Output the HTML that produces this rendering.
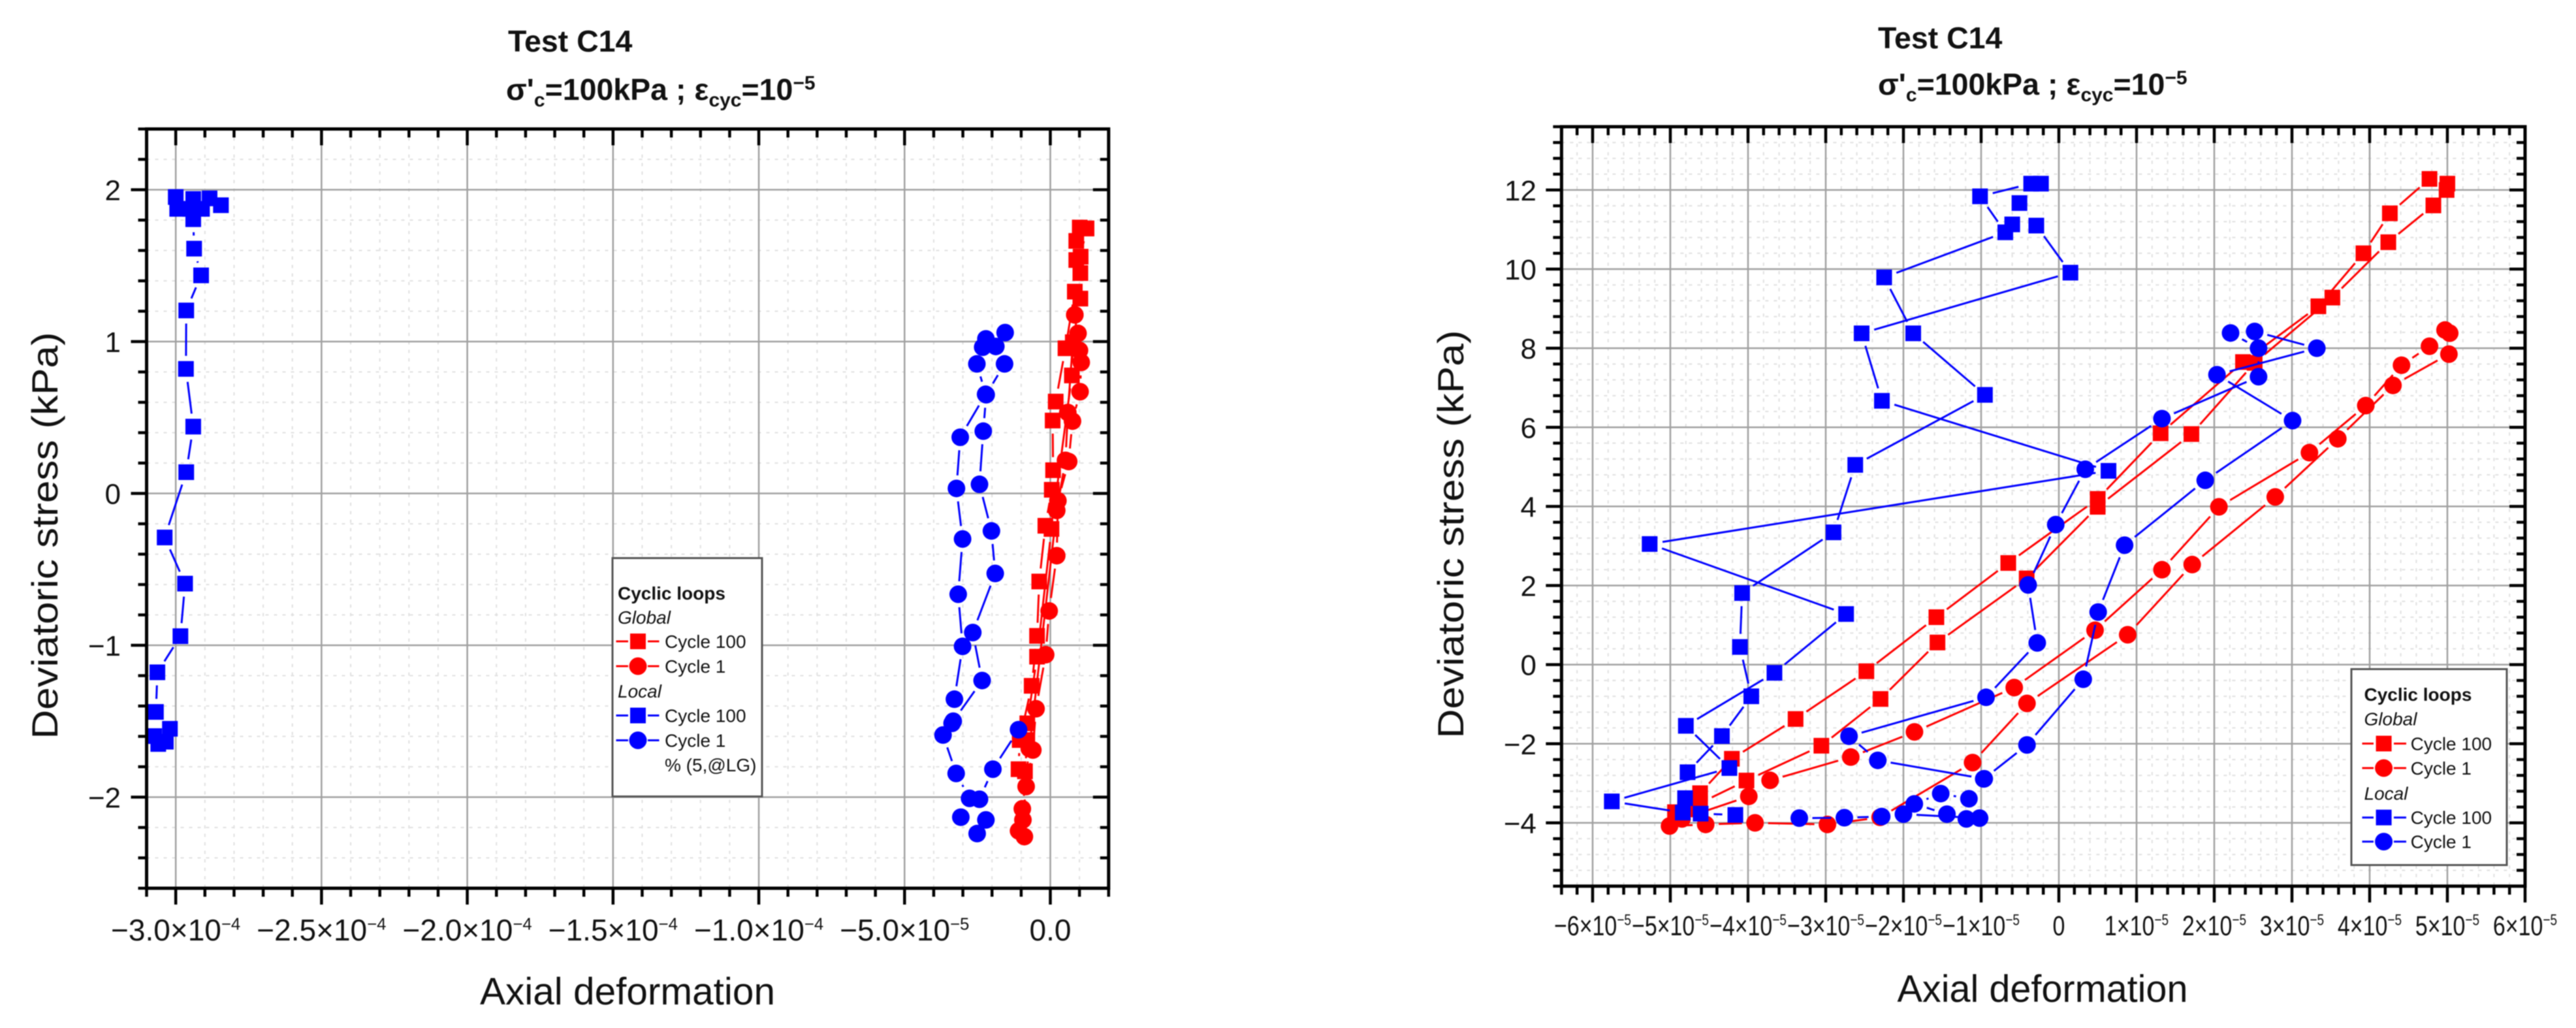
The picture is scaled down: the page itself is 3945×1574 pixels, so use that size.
<!DOCTYPE html>
<html lang="en">
<head>
<meta charset="utf-8">
<title>Test C14 cyclic loops</title>
<style>
html,body{margin:0;padding:0;background:#fff;}
svg{display:block;filter:blur(0.7px);}
text{font-family:"Liberation Sans",sans-serif;fill:#111;}
.title{font-weight:bold;font-size:46.5px;}
.leg{font-size:28px;}
.legb{font-size:28px;font-weight:bold;}
.legi{font-size:28px;font-style:italic;}
</style>
</head>
<body>
<svg id="figure" xmlns="http://www.w3.org/2000/svg" width="3945" height="1574" viewBox="0 0 3945 1574">
<rect x="0" y="0" width="3945" height="1574" fill="#ffffff"/>

<g id="left-chart"></g>
<g id="right-chart"></g>

<text class="title" x="778" y="79">Test C14</text>
<text class="title" x="775" y="153">σ'<tspan font-size="30" dy="10">c</tspan><tspan dy="-10">=100kPa ; ε</tspan><tspan font-size="30" dy="10">cyc</tspan><tspan dy="-10">=10</tspan><tspan font-size="30" dy="-16">−5</tspan></text>
<text class="title" x="2876" y="74">Test C14</text>
<text class="title" x="2876" y="145">σ'<tspan font-size="30" dy="10">c</tspan><tspan dy="-10">=100kPa ; ε</tspan><tspan font-size="30" dy="10">cyc</tspan><tspan dy="-10">=10</tspan><tspan font-size="30" dy="-16">−5</tspan></text>

<text x="0" y="0" font-size="56" transform="translate(88,820) rotate(-90)" text-anchor="middle" textLength="623" lengthAdjust="spacingAndGlyphs">Deviatoric stress (kPa)</text>
<text x="961" y="1538" font-size="58" text-anchor="middle" textLength="452" lengthAdjust="spacingAndGlyphs">Axial deformation</text>
<text x="0" y="0" font-size="56" transform="translate(2241,818) rotate(-90)" text-anchor="middle" textLength="625" lengthAdjust="spacingAndGlyphs">Deviatoric stress (kPa)</text>
<text x="3128" y="1534" font-size="58" text-anchor="middle" textLength="445" lengthAdjust="spacingAndGlyphs">Axial deformation</text>

<g>
  <rect x="938" y="854.5" width="229" height="365" fill="#ffffff" stroke="#555555" stroke-width="3"/>
  <text class="legb" x="946" y="918">Cyclic loops</text>
  <text class="legi" x="946" y="955">Global</text>
  <g>
    <path d="M943.5 982H962M992 982H1009.5" stroke="#ff0000" stroke-width="3" fill="none"/>
    <rect x="965" y="970" width="24" height="24" fill="#ff0000"/>
    <text class="leg" x="1018" y="992">Cycle 100</text>
  </g>
  <g>
    <path d="M943.5 1020H962M992 1020H1009.5" stroke="#ff0000" stroke-width="3" fill="none"/>
    <circle cx="977" cy="1020" r="13.5" fill="#ff0000"/>
    <text class="leg" x="1018" y="1030">Cycle 1</text>
  </g>
  <text class="legi" x="946" y="1068">Local</text>
  <g>
    <path d="M943.5 1095.5H962M992 1095.5H1009.5" stroke="#0000ff" stroke-width="3" fill="none"/>
    <rect x="965" y="1083.5" width="24" height="24" fill="#0000ff"/>
    <text class="leg" x="1018" y="1105.5">Cycle 100</text>
  </g>
  <g>
    <path d="M943.5 1133.5H962M992 1133.5H1009.5" stroke="#0000ff" stroke-width="3" fill="none"/>
    <circle cx="977" cy="1133.5" r="13.5" fill="#0000ff"/>
    <text class="leg" x="1018" y="1143.5">Cycle 1</text>
  </g>
  <text class="leg" x="1018" y="1181">% (5,@LG)</text>
</g>

<g>
  <rect x="3601" y="1024.5" width="238" height="300" fill="#ffffff" stroke="#555555" stroke-width="3"/>
  <text class="legb" x="3620.5" y="1073">Cyclic loops</text>
  <text class="legi" x="3620.5" y="1110.5">Global</text>
  <g>
    <path d="M3617.5 1138.5H3635M3666 1138.5H3685" stroke="#ff0000" stroke-width="3" fill="none"/>
    <rect x="3638.6" y="1126.5" width="24" height="24" fill="#ff0000"/>
    <text class="leg" x="3691.6" y="1148.5">Cycle 100</text>
  </g>
  <g>
    <path d="M3617.5 1176H3635M3666 1176H3685" stroke="#ff0000" stroke-width="3" fill="none"/>
    <circle cx="3650.6" cy="1176" r="13.5" fill="#ff0000"/>
    <text class="leg" x="3691.6" y="1186">Cycle 1</text>
  </g>
  <text class="legi" x="3620.5" y="1224.5">Local</text>
  <g>
    <path d="M3617.5 1251.7H3635M3666 1251.7H3685" stroke="#0000ff" stroke-width="3" fill="none"/>
    <rect x="3638.6" y="1239.7" width="24" height="24" fill="#0000ff"/>
    <text class="leg" x="3691.6" y="1261.7">Cycle 100</text>
  </g>
  <g>
    <path d="M3617.5 1288.6H3635M3666 1288.6H3685" stroke="#0000ff" stroke-width="3" fill="none"/>
    <circle cx="3650.6" cy="1288.6" r="13.5" fill="#0000ff"/>
    <text class="leg" x="3691.6" y="1298.6">Cycle 1</text>
  </g>
</g>
</svg>

<script>
// All strain values are expressed in units of 1e-5.

// ---- LEFT CHART DATA ----
const leftXTickValues = [-30, -25, -20, -15, -10, -5, 0];
const leftXTickMantissas = ['−3.0', '−2.5', '−2.0', '−1.5', '−1.0', '−5.0', '0.0'];
const leftXTickExponents = ['−4', '−4', '−4', '−4', '−4', '−5', ''];
const leftYTickValues = [-2, -1, 0, 1, 2];
const leftYTickLabels = ['−2', '−1', '0', '1', '2'];

const leftGlobal100X = [1.24, 1.01, 0.89, 0.89, 0.84, 0.52, 0.185, 0.08, 0.095, 0.05, -0.17, -0.38, -0.455, -0.64, -1.05, -1.09, -0.87, -0.79, -0.79, -0.455, 0.04, 0.74, 0.77, 1.03, 1.03, 1.04, 1.24];
const leftGlobal100Y = [1.745, 1.751, 1.663, 1.537, 1.329, 0.956, 0.605, 0.48, 0.153, 0.024, -0.213, -0.58, -0.938, -1.267, -1.624, -1.816, -1.83, -1.624, -1.514, -1.075, -0.234, 0.777, 0.996, 1.283, 1.451, 1.559, 1.745];
const leftGlobal1X = [0.84, 0.95, 1.0, 1.06, 1.02, 0.76, 0.63, 0.26, 0.22, -0.04, -0.16, -0.49, -0.6, -0.83, -0.94, -0.89, -1.09, -0.96, -0.72, 0.22, 0.52, 0.6, 0.84];
const leftGlobal1Y = [1.176, 1.054, 0.942, 0.863, 0.67, 0.476, 0.21, -0.048, -0.41, -0.774, -1.062, -1.418, -1.69, -1.93, -2.15, -2.26, -2.222, -2.077, -1.68, -0.112, 0.218, 0.533, 1.176];
const leftLocal100X = [-28.45, -28.84, -29.1, -29.4, -29.5, -30.0, -29.95, -29.4, -29.37, -29.13, -29.64, -29.65, -29.4, -29.64, -30.38, -29.68, -29.84, -30.63, -30.68, -30.74, -30.6, -30.34, -30.2];
const leftLocal100Y = [1.898, 1.943, 1.874, 1.939, 1.874, 1.952, 1.874, 1.806, 1.612, 1.436, 1.205, 0.82, 0.44, 0.14, -0.29, -0.594, -0.94, -1.178, -1.439, -1.598, -1.65, -1.635, -1.55];
const leftLocal1X = [-1.09, -1.97, -2.43, -2.21, -2.51, -3.07, -2.77, -3.23, -3.68, -3.37, -3.29, -3.01, -3.16, -3.01, -3.22, -3.09, -2.22, -2.52, -2.32, -2.21, -1.55, -1.87, -1.57, -2.2, -2.3, -2.43, -2.02, -1.89, -2.66, -2.34, -3.33];
const leftLocal1Y = [-1.556, -1.816, -2.014, -2.15, -2.24, -2.132, -2.008, -1.844, -1.591, -1.514, -1.355, -1.007, -0.664, -0.3, 0.033, 0.37, 0.653, 0.853, 0.963, 1.018, 1.059, 0.968, 0.853, 0.65, 0.41, 0.06, -0.247, -0.527, -0.916, -1.232, -1.5];

// ---- RIGHT CHART DATA ----
const rightXTickValues = [-6, -5, -4, -3, -2, -1, 0, 1, 2, 3, 4, 5, 6];
const rightXTickMantissas = ['−6', '−5', '−4', '−3', '−2', '−1', '0', '1', '2', '3', '4', '5', '6'];
const rightXTickExponents = ['−5', '−5', '−5', '−5', '−5', '−5', '', '−5', '−5', '−5', '−5', '−5', '−5'];
const rightYTickValues = [-4, -2, 0, 2, 4, 6, 8, 10, 12];
const rightYTickLabels = ['−4', '−2', '0', '2', '4', '6', '8', '10', '12'];

const rightGlobal100X = [4.77, 4.26, 3.92, 3.34, 2.37, 1.31, 0.5, -0.651, -1.576, -2.477, -3.388, -4.208, -4.617, -4.94, -4.81, -4.617, -4.02, -3.056, -2.295, -1.562, -0.414, 0.5, 1.706, 2.52, 3.52, 4.24, 4.82, 4.99, 5.0];
const rightGlobal100Y = [12.28, 11.41, 10.4, 9.06, 7.65, 5.85, 4.19, 2.57, 1.2, -0.166, -1.374, -2.38, -3.25, -3.73, -3.66, -3.5, -2.93, -2.05, -0.868, 0.56, 2.18, 3.99, 5.83, 7.63, 9.28, 10.68, 11.61, 12.0, 12.16];
const rightGlobal1X = [5.03, 4.77, 4.41, 3.95, 3.225, 2.06, 1.327, 0.466, -0.574, -1.858, -2.678, -3.716, -3.99, -4.85, -5.01, -4.545, -3.91, -2.978, -2.3, -1.11, -0.41, 0.886, 1.716, 2.785, 3.59, 4.3, 5.02, 4.97];
const rightGlobal1Y = [8.38, 8.05, 7.57, 6.55, 5.36, 3.99, 2.4, 0.87, -0.58, -1.7, -2.337, -2.925, -3.33, -3.9, -4.08, -4.04, -4.0, -4.04, -3.86, -2.476, -0.98, 0.756, 2.53, 4.24, 5.71, 7.06, 7.85, 8.46];
const rightLocal100X = [-4.163, -4.61, -4.84, -5.753, -4.24, -4.8, -3.66, -2.738, -5.266, 0.639, -2.277, -2.538, 0.149, -0.29, null, -0.23, null, -0.6, -0.507, -0.356, -1.014, -0.689, -2.248, -1.874, -0.951, -2.62, -2.9, -4.076, -4.104, -3.958, -4.336, -4.778, -4.81];
const rightLocal100Y = [-3.8, -3.767, -3.74, -3.457, -2.614, -1.547, -0.207, 1.28, 3.05, 4.9, 6.67, 8.376, 9.91, 11.1, null, 12.16, null, 11.13, 11.67, 12.16, 11.84, 10.93, 9.79, 8.376, 6.82, 5.05, 3.345, 1.81, 0.447, -0.8, -1.806, -2.72, -3.375];
const rightLocal1X = [-0.967, -0.41, 0.314, 0.506, 0.846, 1.884, 3.008, 2.035, 3.32, 2.52, 2.21, 2.57, 2.57, 1.327, 0.34, -0.04, -0.395, -0.278, -0.937, -2.7, -2.33, -0.96, -1.157, -1.52, -1.86, -1.44, -1.19, -1.02, -2.0, -2.28, -2.76, -3.34];
const rightLocal1Y = [-2.89, -2.03, -0.37, 1.33, 3.02, 4.66, 6.17, 7.33, 8.0, 8.424, 8.385, 8.0, 7.28, 6.22, 4.94, 3.54, 2.015, 0.55, -0.826, -1.81, -2.42, -2.885, -3.39, -3.26, -3.52, -3.78, -3.9, -3.88, -3.78, -3.84, -3.87, -3.88];

// ---- DRAWING ----
const NS = 'http://www.w3.org/2000/svg';
const RED = '#ff0000';
const BLUE = '#0000ff';

function make(tag, attrs) {
  const el = document.createElementNS(NS, tag);
  for (const k in attrs) { el.setAttribute(k, attrs[k]); }
  return el;
}

function linearAxis(d0, d1, p0, p1) {
  return function (v) { return p0 + (v - d0) / (d1 - d0) * (p1 - p0); };
}

function drawFrame(root, c, x, y) {
  const left = c.px[0], right = c.px[1], top = c.py[0], bottom = c.py[1];

  const grid = make('g', {});
  
  
  root.appendChild(grid);

  const nx = Math.round((c.xDomain[1] - c.xDomain[0]) / c.xMinor);
  const ny = Math.round((c.yDomain[1] - c.yDomain[0]) / c.yMinor);
  const isMajor = function (v, arr) { return arr.some(function (t) { return Math.abs(t - v) < 1e-6; }); };

  for (let i = 0; i <= nx; i++) {
    const v = c.xDomain[0] + i * c.xMinor;
    if (isMajor(v, c.xTicks)) { continue; }
    const l = make('line', { x1: x(v), x2: x(v), y1: top, y2: bottom, stroke: '#e0e0e0', 'stroke-width': 2, 'stroke-dasharray': '5 8' });
    
    
    grid.appendChild(l);
  }
  for (let i = 0; i <= ny; i++) {
    const v = c.yDomain[0] + i * c.yMinor;
    if (isMajor(v, c.yTicks)) { continue; }
    const l = make('line', { x1: left, x2: right, y1: y(v), y2: y(v), stroke: '#e0e0e0', 'stroke-width': 2, 'stroke-dasharray': '5 8' });
    
    
    grid.appendChild(l);
  }
  c.xTicks.forEach(function (v) {
    const l = make('line', { x1: x(v), x2: x(v), y1: top, y2: bottom, stroke: '#a0a0a0', 'stroke-width': 2.5 });
    
    
    grid.appendChild(l);
  });
  c.yTicks.forEach(function (v) {
    const l = make('line', { x1: left, x2: right, y1: y(v), y2: y(v), stroke: '#a0a0a0', 'stroke-width': 2.5 });
    
    
    grid.appendChild(l);
  });
}

function drawAxes(root, c, x, y) {
  const left = c.px[0], right = c.px[1], top = c.py[0], bottom = c.py[1];
  const axes = make('g', { stroke: '#000000', 'stroke-width': 4.5, fill: 'none' });
  
  
  root.appendChild(axes);

  const frame = make('rect', { x: left, y: top, width: right - left, height: bottom - top, 'stroke-width': 5 });
  
  
  axes.appendChild(frame);

  const nx = Math.round((c.xDomain[1] - c.xDomain[0]) / c.xMinor);
  const ny = Math.round((c.yDomain[1] - c.yDomain[0]) / c.yMinor);
  const isMajor = function (v, arr) { return arr.some(function (t) { return Math.abs(t - v) < 1e-6; }); };

  for (let i = 0; i <= nx; i++) {
    const v = c.xDomain[0] + i * c.xMinor;
    const len = isMajor(v, c.xTicks) ? 25 : 13;
    const b = make('line', { x1: x(v), x2: x(v), y1: bottom, y2: bottom + len });
    
    
    axes.appendChild(b);
    const t = make('line', { x1: x(v), x2: x(v), y1: top, y2: top + len });
    
    
    axes.appendChild(t);
  }
  for (let i = 0; i <= ny; i++) {
    const v = c.yDomain[0] + i * c.yMinor;
    const len = isMajor(v, c.yTicks) ? 24 : 13;
    const l = make('line', { x1: left - len, x2: left, y1: y(v), y2: y(v) });
    
    
    axes.appendChild(l);
    const r = make('line', { x1: right - len, x2: right, y1: y(v), y2: y(v) });
    
    
    axes.appendChild(r);
  }

  c.xTicks.forEach(function (v, i) {
    const label = make('text', { 'text-anchor': 'middle', 'font-size': c.xFont, transform: 'translate(' + x(v) + ',' + c.xLabelY + ') scale(' + c.xScale + ',1)' });
    
    
    const mant = c.xMant[i];
    const exp = c.xExp[i];
    if (exp === '') {
      label.textContent = mant;
    } else {
      const a = make('tspan', {});
      a.textContent = mant + '×10';
      label.appendChild(a);
      const s = make('tspan', { 'font-size': c.xFont * 0.56, dy: -c.xFont * 0.36 });
      s.textContent = exp;
      label.appendChild(s);
    }
    root.appendChild(label);
  });

  c.yTicks.forEach(function (v, i) {
    const label = make('text', { x: c.yLabelX, y: y(v) + 16, 'text-anchor': 'end', 'font-size': 44 });
    
    
    label.textContent = c.yLabels[i];
    root.appendChild(label);
  });
}

function drawSeries(root, seriesName, xs, ys, color, shape, x, y) {
  const group = make('g', {});
  
  
  root.appendChild(group);

  const GAP = 20;
  for (let i = 0; i + 1 < xs.length; i++) {
    if (xs[i] === null || xs[i + 1] === null) { continue; }
    const x1 = x(xs[i]), y1 = y(ys[i]), x2 = x(xs[i + 1]), y2 = y(ys[i + 1]);
    const len = Math.hypot(x2 - x1, y2 - y1);
    if (len <= GAP * 2 + 1) { continue; }
    const ux = (x2 - x1) / len, uy = (y2 - y1) / len;
    const seg = make('line', { x1: x1 + ux * GAP, y1: y1 + uy * GAP, x2: x2 - ux * GAP, y2: y2 - uy * GAP, stroke: color, 'stroke-width': 3 });
    
    
    group.appendChild(seg);
  }
  for (let i = 0; i < xs.length; i++) {
    if (xs[i] === null) { continue; }
    let mark;
    if (shape === 'square') {
      mark = make('rect', { x: x(xs[i]) - 12, y: y(ys[i]) - 12, width: 24, height: 24, fill: color });
    } else {
      mark = make('circle', { cx: x(xs[i]), cy: y(ys[i]), r: 13.5, fill: color });
    }
    
    
    group.appendChild(mark);
  }
}

const leftCfg = {
  xDomain: [-31, 2], yDomain: [-2.6, 2.4], px: [224.5, 1697.8], py: [197.5, 1360],
  xMinor: 1, yMinor: 0.2, xTicks: leftXTickValues, yTicks: leftYTickValues,
  xMant: leftXTickMantissas, xExp: leftXTickExponents, yLabels: leftYTickLabels,
  xFont: 46, xScale: 1, xLabelY: 1440, yLabelX: 185
};
const rightCfg = {
  xDomain: [-6.4, 6], yDomain: [-5.6, 13.6], px: [2391.4, 3867], py: [194, 1356.8],
  xMinor: 0.2, yMinor: 0.4, xTicks: rightXTickValues, yTicks: rightYTickValues,
  xMant: rightXTickMantissas, xExp: rightXTickExponents, yLabels: rightYTickLabels,
  xFont: 43, xScale: 0.79, xLabelY: 1432, yLabelX: 2353
};

const leftRoot = document.getElementById('left-chart');
const leftX = linearAxis(leftCfg.xDomain[0], leftCfg.xDomain[1], leftCfg.px[0], leftCfg.px[1]);
const leftY = linearAxis(leftCfg.yDomain[0], leftCfg.yDomain[1], leftCfg.py[1], leftCfg.py[0]);
drawFrame(leftRoot, leftCfg, leftX, leftY);
drawSeries(leftRoot, 'global-cycle-100', leftGlobal100X, leftGlobal100Y, RED, 'square', leftX, leftY);
drawSeries(leftRoot, 'global-cycle-1', leftGlobal1X, leftGlobal1Y, RED, 'circle', leftX, leftY);
drawSeries(leftRoot, 'local-cycle-100', leftLocal100X, leftLocal100Y, BLUE, 'square', leftX, leftY);
drawSeries(leftRoot, 'local-cycle-1', leftLocal1X, leftLocal1Y, BLUE, 'circle', leftX, leftY);
drawAxes(leftRoot, leftCfg, leftX, leftY);

const rightRoot = document.getElementById('right-chart');
const rightX = linearAxis(rightCfg.xDomain[0], rightCfg.xDomain[1], rightCfg.px[0], rightCfg.px[1]);
const rightY = linearAxis(rightCfg.yDomain[0], rightCfg.yDomain[1], rightCfg.py[1], rightCfg.py[0]);
drawFrame(rightRoot, rightCfg, rightX, rightY);
drawSeries(rightRoot, 'global-cycle-100', rightGlobal100X, rightGlobal100Y, RED, 'square', rightX, rightY);
drawSeries(rightRoot, 'global-cycle-1', rightGlobal1X, rightGlobal1Y, RED, 'circle', rightX, rightY);
drawSeries(rightRoot, 'local-cycle-100', rightLocal100X, rightLocal100Y, BLUE, 'square', rightX, rightY);
drawSeries(rightRoot, 'local-cycle-1', rightLocal1X, rightLocal1Y, BLUE, 'circle', rightX, rightY);
drawAxes(rightRoot, rightCfg, rightX, rightY);
</script>
</body>
</html>
